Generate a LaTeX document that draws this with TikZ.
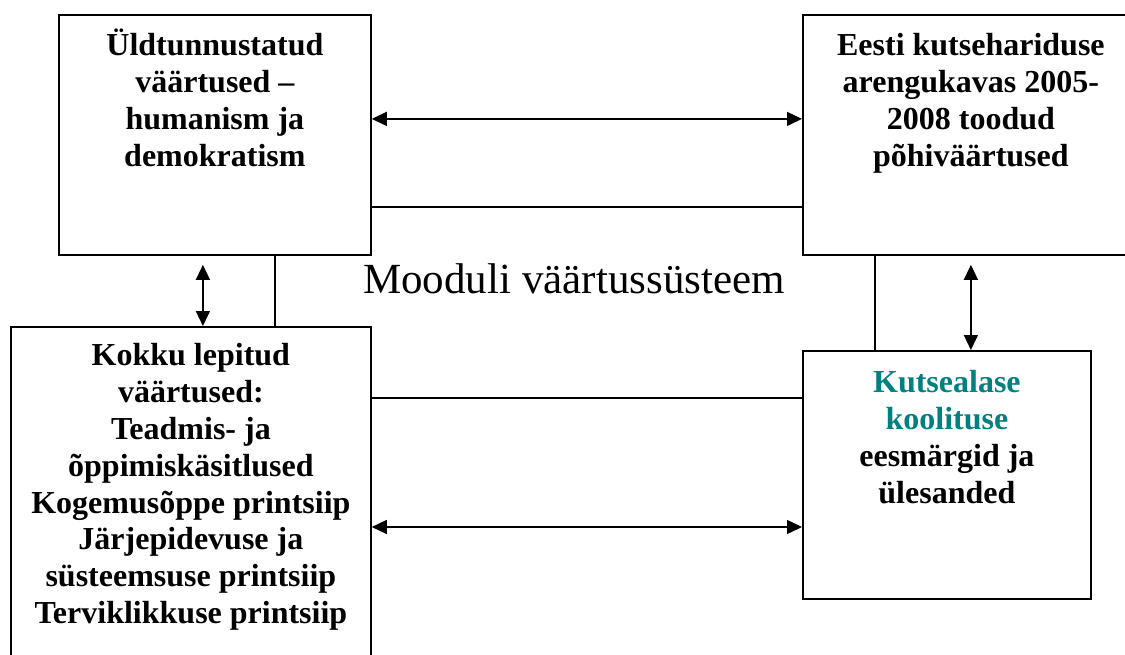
\documentclass[tikz,border=0pt]{standalone}
\usepackage{fontspec}
\setmainfont{Liberation Serif}
\usetikzlibrary{arrows.meta}
\definecolor{tealtxt}{RGB}{0,128,128}
\newcommand\btxt{\fontsize{32}{36.8}\selectfont\bfseries}
\tikzset{
  box/.style={draw, line width=1.8pt, inner sep=0pt, anchor=north west, fill=white},
  conn/.style={line width=1.4pt},
  arr/.style={conn, {Triangle[length=15pt,width=14pt]}-{Triangle[length=15pt,width=14pt]}}
}
\begin{document}
\begin{tikzpicture}[x=1pt,y=-1pt]
\clip (0,0) rectangle (1125,654);
\fill[white] (0,0) rectangle (1125,654);
\node[box] (A) at (58,14) {\parbox[c][240pt][t]{312pt}{\centering\btxt\rule{0pt}{41pt}Üldtunnustatud\\ väärtused –\\ humanism ja\\ demokratism}};
\node[box] (B) at (802,14) {\parbox[c][240pt][t]{336pt}{\centering\btxt\rule{0pt}{41pt}Eesti kutsehariduse\\ arengukavas 2005-\\ 2008 toodud\\ põhiväärtused}};
\node[box] (C) at (10,326) {\parbox[c][340pt][t]{360pt}{\centering\btxt\rule{0pt}{39pt}Kokku lepitud\\ väärtused:\\ Teadmis- ja\\ õppimiskäsitlused\\ Kogemusõppe printsiip\\ Järjepidevuse ja\\ süsteemsuse printsiip\\ Terviklikkuse printsiip}};
\node[box] (D) at (802,350) {\parbox[c][248pt][t]{288pt}{\centering\btxt\rule{0pt}{42pt}\textcolor{tealtxt}{Kutsealase}\\ \textcolor{tealtxt}{koolituse}\\ eesmärgid ja\\ ülesanded}};
\node[font=\fontsize{43}{50}\selectfont, anchor=base] (L) at (574,293) {Mooduli väärtussüsteem};
% A - B
\draw[arr] ([yshift=16pt]A.east) -- ([yshift=16pt]A.east -| B.west);
\draw[conn] ([yshift=-72pt]A.east) -- ([yshift=-72pt]A.east -| B.west);
% A - C
\draw[arr] ([xshift=-12pt,yshift=-9pt]A.south) -- ([xshift=-12pt]A.south |- C.north);
\draw[conn] ([xshift=60pt]A.south) -- ([xshift=60pt]A.south |- C.north);
% B - D
\draw[arr] ([yshift=-9pt]B.south) -- (B.south |- D.north);
\draw[conn] ([xshift=-96pt]B.south) -- ([xshift=-96pt]B.south |- D.north);
% C - D
\coordinate (d1) at ([yshift=-48pt]D.north west);
\coordinate (d2) at ([yshift=-177pt]D.north west);
\draw[conn] (d1 -| C.east) -- (d1);
\draw[arr] (d2 -| C.east) -- (d2);
\end{tikzpicture}
\end{document}
